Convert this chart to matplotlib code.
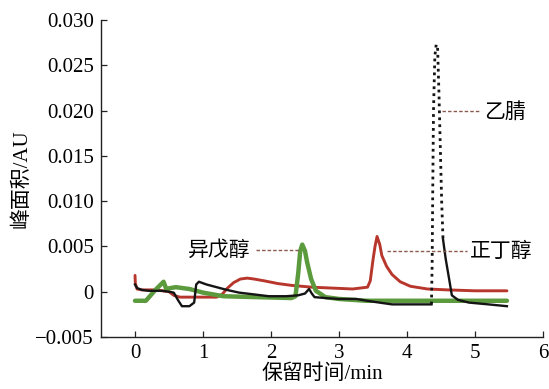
import matplotlib
matplotlib.use("Agg")
import matplotlib.pyplot as plt

plt.rcParams['font.family'] = ['Liberation Serif', 'Noto Sans CJK SC', 'DejaVu Sans']
plt.rcParams['axes.unicode_minus'] = True

# ---- data (retention time in min, peak area in AU) ----
black_x = [0, 0.03, 0.1, 0.2, 0.3, 0.4, 0.5, 0.57, 0.63, 0.69, 0.8, 0.87, 0.9, 0.94, 1.05, 1.2,
           1.35, 1.53, 1.75, 1.97, 2.22, 2.4, 2.5, 2.56, 2.6, 2.64, 2.8, 3.0, 3.25, 3.5, 3.78, 4.1, 4.36]
black_y = [0.0008, 0.0004, 0.0002, 0.0001, 0.0001, 0.0001, 0.0, -0.0001, -0.0009, -0.0016, -0.0016,
           -0.0012, 0.0008, 0.0011, 0.0008, 0.0005, 0.0002, -0.0001, -0.0003, -0.0005, -0.0005,
           -0.0004, -0.0002, 0.0003, -0.0002, -0.0006, -0.0007, -0.0008, -0.0008, -0.0011, -0.0014,
           -0.0014, -0.0014]
peak_x = [4.36, 4.37, 4.38, 4.39, 4.41, 4.43, 4.45, 4.47, 4.49, 4.51, 4.53]
peak_y = [-0.0014, 0.003, 0.012, 0.020, 0.026, 0.0273, 0.027, 0.022, 0.016, 0.010, 0.0058]
tail_x = [4.53, 4.57, 4.62, 4.66, 4.75, 4.91, 5.2, 5.47]
tail_y = [0.0058, 0.0036, 0.0014, -0.0004, -0.0009, -0.0012, -0.0014, -0.0016]

red_x = [0, 0.005, 0.03, 0.1, 0.2, 0.3, 0.4, 0.5, 0.57, 0.66, 0.8, 1.0, 1.2, 1.28, 1.36, 1.45,
         1.55, 1.65, 1.75, 1.9, 2.1, 2.3, 2.6, 2.9, 3.2, 3.42, 3.46, 3.5, 3.53, 3.56, 3.6, 3.63,
         3.7, 3.78, 3.9, 4.05, 4.3, 4.6, 5.0, 5.47]
red_y = [0.0018, 0.0009, 0.0003, 0.0002, 0.0002, 0.0002, 0.0001, 0.0, -0.0004, -0.0006, -0.0006,
         -0.0006, -0.0006, -0.0003, 0.0004, 0.0010, 0.0014, 0.0015, 0.0014, 0.0012, 0.0009, 0.0007,
         0.0005, 0.0004, 0.0003, 0.0005, 0.0012, 0.0035, 0.005, 0.0061, 0.0052, 0.004, 0.0028,
         0.0019, 0.0011, 0.0006, 0.0003, 0.0002, 0.0001, 0.0001]

green_x = [0, 0.16, 0.3, 0.42, 0.46, 0.52, 0.6, 0.8, 1.0, 1.3, 1.8, 2.3, 2.36, 2.4, 2.43, 2.46,
           2.5, 2.53, 2.59, 2.66, 2.8, 3.0, 3.4, 4.0, 4.5, 5.0, 5.47]
green_y = [-0.001, -0.001, 0.0002, 0.0011, 0.0003, 0.0004, 0.0005, 0.0003, -0.0001, -0.0005,
           -0.0006, -0.0007, -0.0005, 0.002, 0.0045, 0.0052, 0.0045, 0.0033, 0.0014, 0.0001,
           -0.0006, -0.0008, -0.001, -0.001, -0.001, -0.001, -0.001]

labels = ["异戊醇", "正丁醇", "乙腈"]
leader_x0 = [1.78, 3.71, 4.51]
leader_x1 = [2.43, 4.88, 5.09]
leader_y = [0.0046, 0.00447, 0.0199]

xticks = [0, 1, 2, 3, 4, 5, 6]
yticks = [-0.005, 0, 0.005, 0.010, 0.015, 0.020, 0.025, 0.030]
ytick_labels = ["\u22120.005", "0", "0.005", "0.010", "0.015", "0.020", "0.025", "0.030"]

# ---- figure ----
fig = plt.figure(figsize=(5.49, 3.89), dpi=100)
ax = fig.add_axes([0.184, 0.1337, 0.805, 0.8149])

RED = '#b8372d'
GREEN = '#5b9a3d'
BLACK = '#141414'
LEAD = '#8a5a4e'

ax.plot(red_x, red_y, color=RED, lw=2.1, zorder=2, solid_capstyle='round')
ax.plot(green_x, green_y, color=GREEN, lw=3.2, zorder=3, solid_capstyle='round')
ax.plot(black_x, black_y, color=BLACK, lw=1.7, zorder=4)
ax.plot(peak_x, peak_y, color=BLACK, lw=2.0, ls=(0, (1, 1.5)), zorder=4)
ax.plot(tail_x, tail_y, color=BLACK, lw=1.7, zorder=4)

# leader lines and labels
for lab, x0, x1, yy in zip(labels, leader_x0, leader_x1, leader_y):
    ax.plot([x0, x1], [yy, yy], color=LEAD, lw=1.0, ls=(0, (2.5, 1.5)), zorder=5)
ax.text(leader_x0[0] - 0.08, leader_y[0], labels[0], ha='right', va='center', fontsize=15,
        family=['Noto Sans CJK SC'])
ax.text(leader_x1[1] + 0.04, leader_y[1], labels[1], ha='left', va='center', fontsize=15,
        family=['Noto Sans CJK SC'])
ax.text(leader_x1[2] + 0.04, leader_y[2], labels[2], ha='left', va='center', fontsize=15,
        family=['Noto Sans CJK SC'])

ax.set_xlim(-0.5, 6)
ax.set_ylim(-0.005, 0.030)
ax.set_xticks(xticks)
ax.set_xticklabels([str(t) for t in xticks])
ax.set_yticks(yticks)
ax.set_yticklabels(ytick_labels)
ax.tick_params(direction='in', length=4, width=0.9, labelsize=15, pad=5, color='#222222')
for s in ['top', 'right']:
    ax.spines[s].set_visible(False)
for s in ['left', 'bottom']:
    ax.spines[s].set_linewidth(1.0)
    ax.spines[s].set_color('#222222')

ax.set_xlabel("保留时间/min", fontsize=15, labelpad=1)
ax.set_ylabel("峰面积/AU", fontsize=15, labelpad=3)

fig.savefig("out.png", dpi=100)
